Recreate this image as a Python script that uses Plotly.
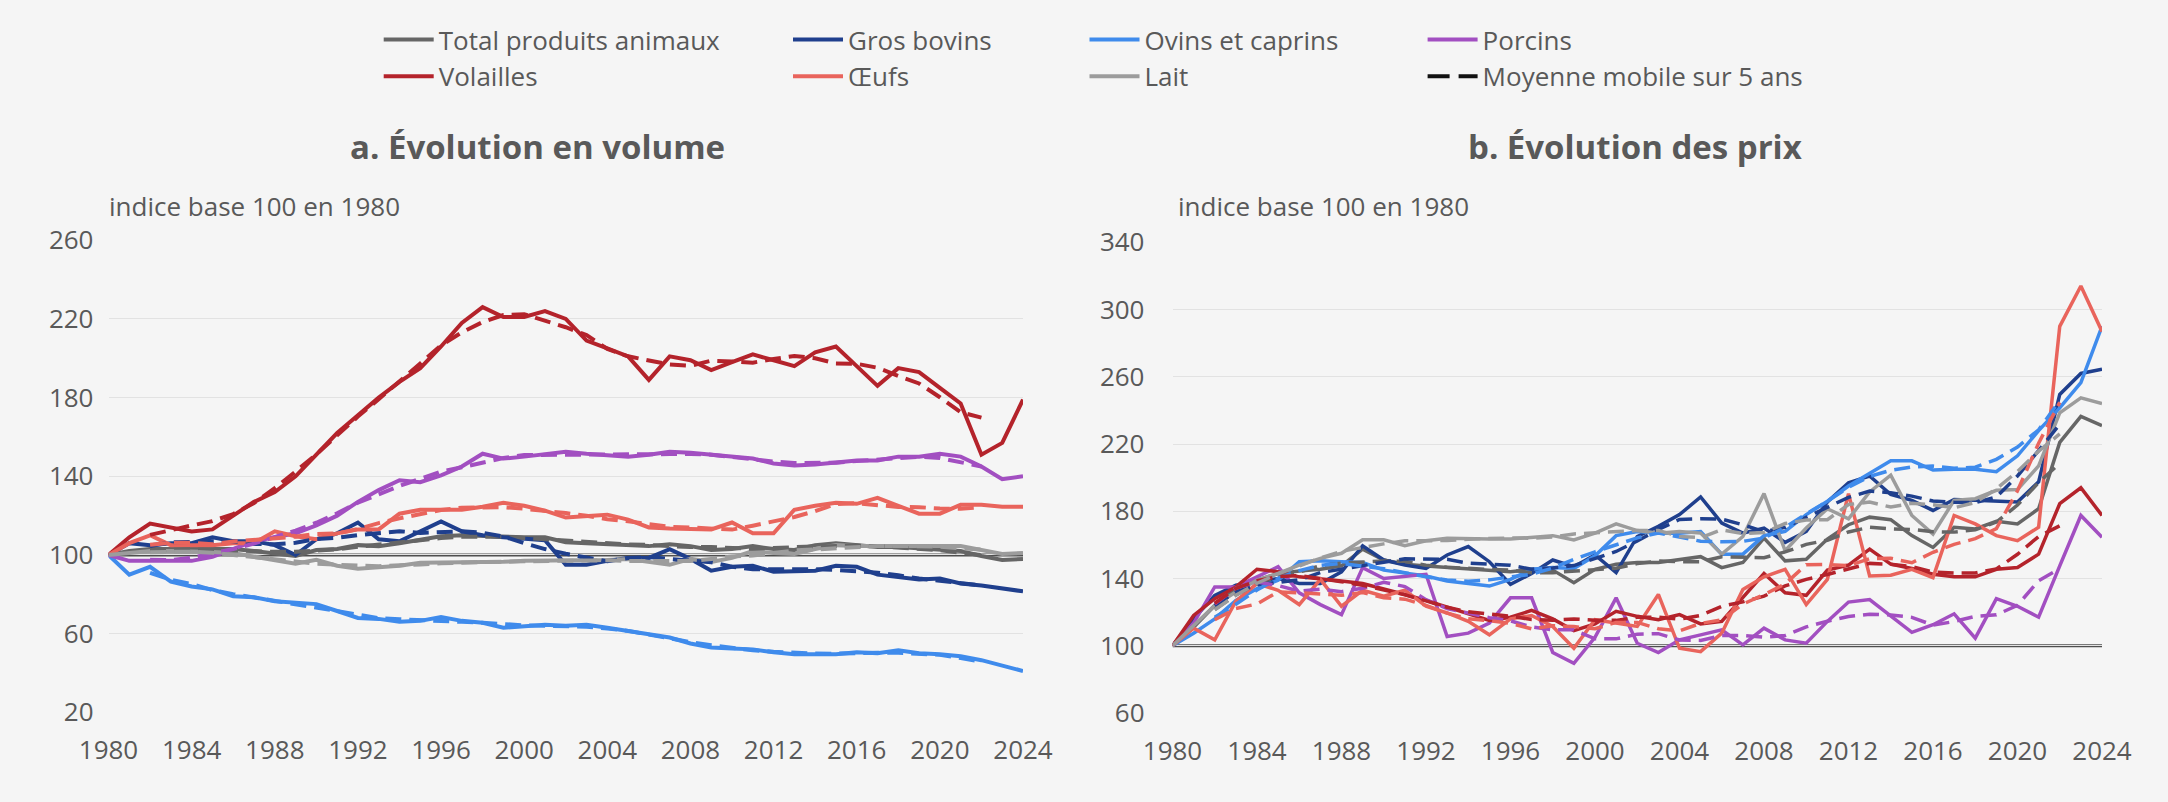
import plotly.graph_objects as go

W, H = 2168, 802

years = list(range(1980, 2025))
ma_years = list(range(1982, 2023))
x_ticks = list(range(1980, 2025, 4))
vol_ticks = [20, 60, 100, 140, 180, 220, 260]
prix_ticks = [60, 100, 140, 180, 220, 260, 300, 340]
base_index = 100

names = ["Total produits animaux", "Gros bovins", "Ovins et caprins", "Porcins",
         "Volailles", "Œufs", "Lait"]
ma_name = "Moyenne mobile sur 5 ans"
colors = ["#666666", "#1f3f8d", "#3f8bec", "#a24fc1", "#b4232b", "#e9645c", "#9c9c9c"]

# ---- a. volume (indice base 100 en 1980)
vol_total = [100, 102, 103, 103, 103, 102.5, 103, 102, 101, 99.5, 102.5, 103, 105, 104.5, 106, 108, 109.5, 110, 109.5, 109, 109, 109, 106.5, 106, 105.5, 105.5, 104.5, 105.5, 104.5, 102.5, 103, 104.5, 103, 102.5, 105, 106, 105, 104, 104, 103.5, 103, 102, 99.5, 97.5, 98]
vol_bovins = [100, 106, 105, 106, 106, 109, 107, 107, 105, 100, 108, 111, 116.5, 108, 107, 112, 117, 112, 110, 109, 108.5, 107.5, 95, 95, 97, 98.5, 98.5, 103, 98, 92, 94, 94.5, 91.5, 91.5, 92, 94.5, 94, 90, 89, 87.5, 88, 85.5, 84.5, 83, 81.5]
vol_ovins = [100, 90, 94, 86.5, 84, 82.5, 79, 78.5, 76.5, 75.5, 75, 71.5, 68, 67.5, 66, 66.5, 68.5, 66.5, 65.5, 63, 64, 64.5, 64, 64.5, 63, 61.5, 60, 58, 55, 53, 52.5, 52, 50.5, 49.5, 49.5, 49.5, 50.5, 50, 51.5, 50, 49.5, 48.5, 46.5, 43.5, 41]
vol_porcins = [100, 97, 97, 97, 97, 99, 103, 107, 109, 111, 115, 120, 127, 133, 138, 137, 140.5, 145, 151.5, 149, 150, 151, 152.5, 151.5, 150.5, 150, 151, 152.5, 152, 151, 150.5, 149, 146.5, 145.5, 146, 147, 148, 148, 150, 150, 151.5, 150, 145, 138.5, 140]
vol_volailles = [100, 109, 116, 114, 112, 113, 120, 127, 132, 140, 151, 162, 171, 180, 188, 195, 206, 218, 226, 221, 221, 224, 220, 209, 205, 201, 189, 201, 199, 194, 198, 202, 199, 196, 203, 206, 196, 186, 195, 193, 185, 177, 151, 157, 179]
vol_oeufs = [100, 106, 110, 105, 105, 105, 106, 106, 112, 109.5, 108, 111, 113, 113, 121, 123, 123, 123, 124.5, 126.5, 125, 122.5, 119, 119.5, 120.5, 118, 114, 113.5, 113, 113, 116.5, 111, 111, 123, 125, 126.5, 126, 129, 125, 121, 121, 125.5, 125.5, 124.5, 124.5]
vol_lait = [100, 101, 102, 102, 102, 101.5, 101, 99, 97, 95.5, 97.5, 94.5, 93, 93.5, 94.5, 96, 96, 96, 96.5, 96.5, 97, 97, 97, 97.5, 97.5, 98, 96.5, 95, 98, 96.5, 98.5, 102, 101, 100.5, 103, 105, 104.5, 104.5, 104.5, 104.5, 105, 104.5, 102.5, 100.5, 101]

vol_total_mm = [102.2, 102.7, 102.9, 102.7, 102.3, 101.6, 101.6, 101.6, 102.2, 102.9, 104.2, 105.3, 106.6, 107.6, 108.6, 109.2, 109.4, 109.3, 108.6, 107.9, 107.2, 106.5, 105.6, 105.4, 105.1, 104.5, 104.0, 104.0, 103.5, 103.1, 103.6, 104.2, 104.3, 104.5, 104.8, 104.5, 103.9, 103.3, 102.4, 101.1, 100.0]
vol_bovins_mm = [104.6, 106.4, 106.6, 107.0, 106.8, 105.6, 105.4, 106.2, 108.1, 108.7, 110.1, 110.9, 112.1, 111.2, 111.6, 112.0, 111.3, 109.4, 106.0, 103.0, 100.6, 98.6, 96.8, 98.4, 99.0, 98.0, 97.1, 96.3, 94.0, 92.7, 92.7, 92.8, 92.7, 92.4, 91.9, 91.0, 89.7, 88.0, 86.9, 85.7, 84.5]
vol_ovins_mm = [90.9, 87.4, 85.2, 82.1, 80.1, 78.4, 76.9, 75.4, 73.3, 71.5, 69.6, 67.9, 67.3, 67.0, 66.6, 66.0, 65.5, 64.7, 64.2, 64.0, 64.0, 63.5, 62.6, 61.4, 59.5, 57.5, 55.7, 54.1, 52.6, 51.5, 50.8, 50.2, 49.9, 49.8, 50.2, 50.3, 50.3, 49.9, 49.2, 47.6, 45.8]
vol_porcins_mm = [97.6, 97.4, 98.6, 100.6, 103.0, 105.8, 109.0, 112.4, 116.4, 121.2, 126.6, 131.0, 135.1, 138.7, 142.4, 144.6, 147.2, 149.3, 150.8, 150.8, 151.1, 151.1, 151.1, 151.1, 151.2, 151.3, 151.4, 151.0, 149.8, 148.5, 147.5, 146.8, 146.6, 146.9, 147.8, 148.6, 149.5, 149.9, 149.3, 147.0, 145.0]
vol_volailles_mm = [110.2, 112.8, 115.0, 117.2, 120.8, 126.4, 134.0, 142.4, 151.2, 160.8, 170.4, 179.2, 188.0, 197.4, 206.6, 213.2, 218.4, 222.0, 222.4, 219.0, 215.8, 211.8, 204.8, 201.0, 199.0, 196.8, 196.2, 198.8, 198.4, 197.8, 199.6, 201.2, 200.0, 197.4, 197.2, 195.2, 191.0, 187.2, 180.2, 172.6, 169.8]
vol_oeufs_mm = [105.2, 106.2, 106.2, 105.4, 106.8, 107.7, 108.3, 109.3, 110.7, 110.9, 113.2, 116.2, 118.6, 120.6, 122.9, 124.0, 124.4, 124.3, 123.5, 122.5, 121.3, 119.9, 118.2, 117.1, 115.8, 114.3, 114.0, 113.4, 112.9, 114.9, 117.3, 119.3, 122.3, 125.9, 126.3, 125.5, 124.4, 124.3, 123.6, 123.5, 124.2]
vol_lait_mm = [101.4, 101.7, 101.7, 101.1, 100.1, 98.8, 98.0, 96.7, 95.5, 94.8, 94.6, 94.3, 94.6, 95.2, 95.8, 96.2, 96.4, 96.6, 96.8, 97.0, 97.2, 97.4, 97.3, 96.9, 97.0, 96.8, 96.9, 98.0, 99.2, 99.7, 101.0, 102.3, 102.8, 103.5, 104.3, 104.6, 104.6, 104.6, 104.2, 103.4, 102.7]

# ---- b. prix (indice base 100 en 1980)
prix_total = [100, 111, 124, 134, 139, 143, 144.5, 145.5, 147.5, 157.5, 151, 148.5, 147.5, 146.5, 146, 145, 144, 145.5, 145, 137.5, 145.5, 148.5, 149.5, 149.5, 151.5, 153, 146.5, 149.5, 164, 150.5, 151.5, 163.5, 172, 176.5, 175, 165.5, 158.5, 170.5, 169.5, 174, 172.5, 181.5, 221, 236.5, 231]
prix_bovins = [100, 116, 130, 136, 138, 140, 137, 137, 144, 159.5, 151, 148, 146, 154, 159, 150, 136.5, 143, 151, 147, 154, 143.5, 165, 171, 178, 188.5, 173, 167, 170, 161.5, 168, 185.5, 197, 201, 190, 186.5, 180.5, 187, 186.5, 186, 185.5, 197.5, 249.5, 262, 264.5]
prix_ovins = [100, 107.5, 116, 127, 134, 139, 150, 150.5, 150, 149.5, 145, 143, 141.5, 138.5, 137, 135.5, 139.5, 145.5, 146.5, 146, 153.5, 165.5, 168, 167, 167, 168, 154.5, 154.5, 165.5, 168, 178, 186, 195, 202.5, 210, 210, 204.5, 205, 205, 203.5, 213, 228, 241.5, 256.5, 290]
prix_porcins = [100, 113.5, 135, 135, 141, 147, 131.5, 124.5, 118.5, 146.5, 140, 141.5, 142.5, 105.5, 107.5, 113.5, 128.5, 128.5, 96, 89.5, 105, 128.5, 101.5, 96, 103.5, 106.5, 109.5, 100.5, 110.5, 103.5, 101.5, 114.5, 126, 127.5, 117.5, 108, 112.5, 119, 104.5, 128, 123.5, 117, 147.5, 177.5, 164.5]
prix_volailles = [100, 118, 128, 135, 145.5, 144, 141, 140, 138.5, 137, 134, 130.5, 127, 123, 119, 115, 117, 121, 116, 109, 113, 120.5, 117.5, 115.5, 118.5, 113, 114.5, 128.5, 143, 131.5, 130, 145, 148, 157.5, 148.5, 146, 142.5, 141, 141, 145.5, 146.5, 154.5, 184.5, 194, 177.5]
prix_oeufs = [100, 110.5, 103.5, 126.5, 137, 133, 124.5, 139.5, 123.5, 133, 129.5, 133, 123.5, 119.5, 114.5, 106.5, 116, 118, 111.5, 98.5, 115.5, 113.5, 111.5, 130.5, 98.5, 96.5, 107.5, 133.5, 141, 145.5, 124.5, 139.5, 190.5, 141.5, 142, 145.5, 140.5, 177.5, 172.5, 165.5, 162.5, 170.5, 290, 314, 287]
prix_lait = [100, 112, 124, 132, 139, 143, 148, 152, 155, 163, 163, 159.5, 162.5, 164, 163.5, 163.5, 163.5, 164.5, 165.5, 163, 167, 172.5, 168.5, 167, 168, 167, 154.5, 165, 190.5, 156.5, 170, 181.5, 175.5, 191.5, 201.5, 177.5, 166.5, 186.5, 187.5, 192.5, 193, 207, 238.5, 247.5, 244]

prix_total_mm = [121.6, 130.2, 136.9, 141.2, 143.9, 147.6, 149.2, 150.0, 150.4, 150.2, 147.9, 146.7, 145.8, 145.4, 145.1, 143.4, 143.5, 144.4, 145.2, 146.1, 148.9, 150.4, 150.0, 150.0, 152.9, 152.7, 152.4, 155.8, 160.3, 162.8, 167.7, 170.5, 169.5, 169.2, 167.8, 167.6, 169.0, 173.6, 183.7, 197.1, 208.5]
prix_bovins_mm = [124.0, 132.0, 136.2, 137.6, 139.2, 143.5, 145.7, 147.9, 149.7, 151.7, 151.6, 151.4, 149.1, 148.5, 147.9, 145.5, 146.3, 147.7, 152.1, 156.1, 162.3, 169.2, 175.1, 175.5, 175.3, 172.0, 167.9, 170.4, 176.4, 182.6, 188.3, 192.0, 191.0, 189.0, 186.1, 185.3, 185.1, 188.5, 201.0, 216.1, 231.8]
prix_ovins_mm = [116.9, 124.7, 133.2, 140.1, 144.7, 147.8, 149.0, 147.6, 145.8, 143.5, 141.0, 139.1, 138.4, 139.2, 140.8, 142.6, 146.2, 151.4, 155.9, 160.0, 164.2, 167.1, 164.9, 162.2, 161.9, 162.1, 164.1, 170.4, 178.5, 185.9, 194.3, 200.7, 204.4, 206.4, 206.9, 205.6, 206.2, 210.9, 218.2, 228.5, 245.8]
prix_porcins_mm = [124.9, 134.3, 137.9, 135.8, 132.5, 133.6, 132.2, 134.2, 137.8, 135.2, 127.4, 122.1, 119.5, 116.7, 114.8, 111.2, 109.5, 109.5, 104.1, 104.1, 106.9, 107.2, 103.4, 103.2, 106.1, 106.1, 105.1, 106.1, 111.2, 114.6, 117.4, 118.7, 118.3, 116.9, 112.3, 114.4, 117.5, 118.4, 124.1, 138.7, 146.0]
prix_volailles_mm = [125.3, 134.1, 138.7, 141.1, 141.8, 140.1, 138.1, 136.0, 133.4, 130.3, 126.7, 122.9, 120.2, 119.0, 117.6, 115.6, 115.2, 115.9, 115.2, 115.1, 117.0, 117.0, 115.8, 118.0, 123.5, 126.1, 129.5, 135.6, 139.5, 142.4, 145.8, 149.0, 148.5, 147.1, 143.8, 143.2, 143.3, 145.7, 154.4, 165.0, 171.4]
prix_oeufs_mm = [115.5, 122.1, 124.9, 132.1, 131.5, 130.7, 130.0, 131.7, 128.5, 127.7, 124.0, 119.4, 116.0, 114.9, 113.3, 110.1, 111.9, 111.4, 110.1, 113.9, 113.9, 110.1, 108.9, 113.3, 115.4, 124.8, 130.4, 136.8, 148.2, 148.3, 147.6, 151.8, 152.0, 149.4, 155.6, 160.3, 163.7, 169.7, 192.2, 220.5, 244.8]
prix_lait_mm = [121.4, 130.0, 137.2, 142.8, 147.4, 152.2, 156.2, 158.5, 160.6, 162.4, 162.5, 162.6, 163.4, 163.8, 164.1, 164.0, 164.7, 166.5, 167.3, 167.6, 168.6, 168.6, 165.0, 164.3, 169.0, 166.7, 167.3, 172.7, 174.8, 175.0, 184.0, 185.5, 182.5, 184.7, 183.9, 182.1, 185.2, 193.3, 203.7, 215.7, 226.0]

vol_series = [vol_total, vol_bovins, vol_ovins, vol_porcins, vol_volailles, vol_oeufs, vol_lait]
vol_mm = [vol_total_mm, vol_bovins_mm, vol_ovins_mm, vol_porcins_mm, vol_volailles_mm, vol_oeufs_mm, vol_lait_mm]
prix_series = [prix_total, prix_bovins, prix_ovins, prix_porcins, prix_volailles, prix_oeufs, prix_lait]
prix_mm = [prix_total_mm, prix_bovins_mm, prix_ovins_mm, prix_porcins_mm, prix_volailles_mm, prix_oeufs_mm, prix_lait_mm]

legend_of = ["legend", "legend2", "legend3", "legend4", "legend", "legend2", "legend3"]

TEXT = "#595959"
FONT = "Open Sans"
LW = 4
DASH = "16px,8px"

fig = go.Figure()

for i, name in enumerate(names):
    fig.add_trace(go.Scatter(x=years, y=vol_series[i], mode="lines", name=name,
                             line=dict(color=colors[i], width=LW), legend=legend_of[i],
                             xaxis="x", yaxis="y"))
for i, name in enumerate(names):
    fig.add_trace(go.Scatter(x=ma_years, y=vol_mm[i], mode="lines", name=name + " (mm)",
                             line=dict(color=colors[i], width=LW, dash=DASH), showlegend=False,
                             xaxis="x", yaxis="y"))
for i, name in enumerate(names):
    fig.add_trace(go.Scatter(x=years, y=prix_series[i], mode="lines", name=name,
                             line=dict(color=colors[i], width=LW - 0.5), showlegend=False,
                             xaxis="x2", yaxis="y2"))
for i, name in enumerate(names):
    fig.add_trace(go.Scatter(x=ma_years, y=prix_mm[i], mode="lines", name=name + " (mm)",
                             line=dict(color=colors[i], width=LW - 0.5, dash=DASH), showlegend=False,
                             xaxis="x2", yaxis="y2"))

# legend entry for the moving average
fig.add_trace(go.Scatter(x=[None], y=[None], mode="lines", name=ma_name,
                         line=dict(color="#111111", width=LW, dash="22px,9px"),
                         legend="legend4", xaxis="x", yaxis="y"))


def px_x(p):
    return p / W


def px_y(p):
    return 1 - p / H


leg_common = dict(orientation="v", yanchor="top", y=px_y(16), xanchor="left",
                  bgcolor="rgba(0,0,0,0)", borderwidth=0, itemwidth=50,
                  font=dict(family=FONT, size=26, color=TEXT), traceorder="normal")

axis_font = dict(family=FONT, size=26, color=TEXT)

fig.update_layout(
    width=W, height=H,
    margin=dict(l=0, r=0, t=0, b=0, pad=0, autoexpand=False),
    paper_bgcolor="#f5f5f5", plot_bgcolor="#f5f5f5",
    font=dict(family=FONT, size=26, color=TEXT),
    showlegend=True,
    legend=dict(x=px_x(378.7), **leg_common),
    legend2=dict(x=px_x(788), **leg_common),
    legend3=dict(x=px_x(1084.5), **leg_common),
    legend4=dict(x=px_x(1422.6), **leg_common),
    xaxis=dict(domain=[px_x(108.5), px_x(1023)], range=[years[0], years[-1]],
               tickvals=x_ticks, showgrid=False, zeroline=False, showline=False,
               ticks="", tickfont=axis_font, ticklabelstandoff=20, anchor="y",
               automargin=False),
    yaxis=dict(domain=[px_y(712.3), px_y(240.3)], range=[vol_ticks[0], vol_ticks[-1]],
               tickvals=vol_ticks, showgrid=True, gridcolor="#e2e2e2", gridwidth=1,
               zeroline=False, showline=False, ticks="", tickfont=axis_font,
               ticklabelstandoff=14, anchor="x", automargin=False),
    xaxis2=dict(domain=[px_x(1172.5), px_x(2102)], range=[years[0], years[-1]],
                tickvals=x_ticks, showgrid=False, zeroline=False, showline=False,
                ticks="", tickfont=axis_font, ticklabelstandoff=20, anchor="y2",
                automargin=False),
    yaxis2=dict(domain=[px_y(713), px_y(242.3)], range=[prix_ticks[0], prix_ticks[-1]],
                tickvals=prix_ticks, showgrid=True, gridcolor="#e2e2e2", gridwidth=1,
                zeroline=False, showline=False, ticks="", tickfont=axis_font,
                ticklabelstandoff=27, anchor="x2", automargin=False),
    shapes=[
        dict(type="line", xref="x", yref="y", x0=years[0], x1=years[-1], y0=base_index, y1=base_index,
             line=dict(color="#4f4f4f", width=3), layer="below"),
        dict(type="line", xref="x2", yref="y2", x0=years[0], x1=years[-1], y0=base_index, y1=base_index,
             line=dict(color="#4f4f4f", width=3), layer="below"),
    ],
    annotations=[
        dict(text="<b>a. Évolution en volume</b>", xref="paper", yref="paper",
             x=px_x(537.5), y=px_y(146), xanchor="center", yanchor="middle", showarrow=False,
             font=dict(family=FONT, size=33, color=TEXT)),
        dict(text="<b>b. Évolution des prix</b>", xref="paper", yref="paper",
             x=px_x(1634.5), y=px_y(146), xanchor="center", yanchor="middle", showarrow=False,
             font=dict(family=FONT, size=33, color=TEXT)),
        dict(text="indice base 100 en 1980", xref="paper", yref="paper",
             x=px_x(107), y=px_y(206), xanchor="left", yanchor="middle", showarrow=False,
             font=dict(family=FONT, size=26, color=TEXT)),
        dict(text="indice base 100 en 1980", xref="paper", yref="paper",
             x=px_x(1175.5), y=px_y(206), xanchor="left", yanchor="middle", showarrow=False,
             font=dict(family=FONT, size=26, color=TEXT)),
    ],
)

fig.write_html("out.html")
